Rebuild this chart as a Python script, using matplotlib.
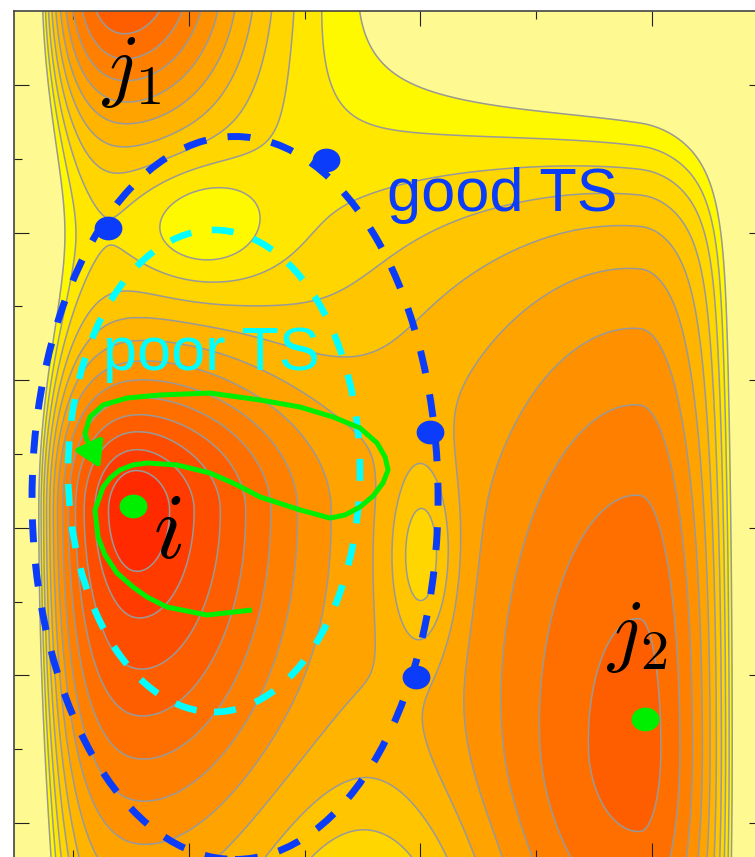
import numpy as np
import matplotlib.pyplot as plt
from matplotlib.patches import Ellipse
from matplotlib.path import Path

plt.rcParams["mathtext.fontset"] = "cm"

# ---------------------------------------------------------------
# model energy surface: split Gaussians on a flat background
# order: basin i, core of i, basin j1, basin j2, channel, hill, bump, hump
# ---------------------------------------------------------------
background = 11.7
term_x = [0.76, 0.76, 0.70, 2.95, 1.95, 1.05, 2.01, 1.85]
term_y = [3.12, 3.12, 6.75, 1.50, 4.40, 5.05, 2.80, 0.40]
term_amp = [-10.4, -1.2, -9.2, -8.1, -0.65, 2.2, 2.9, 2.0]
term_sx_left = [0.45, 0.13, 0.35, 0.70, 0.35, 0.22, 0.10, 0.35]
term_sx_right = [0.58, 0.13, 0.42, 0.30, 0.35, 0.22, 0.10, 0.35]
term_sy_down = [1.80, 0.35, 0.78, 1.80, 0.70, 0.30, 0.45, 0.60]
term_sy_up = [0.80, 0.35, 0.78, 2.80, 0.70, 0.30, 0.45, 0.60]

wall_height = 11.6
wall_left_x, wall_left_w = 0.32, 0.09
wall_right_x, wall_right_w = 3.41, 0.07

# high plateau in the upper right corner
shelf_height = 6.7
shelf_cx, shelf_cy = 3.30, 6.60
shelf_rx, shelf_ry = 1.25, 1.00
shelf_w = 0.32

levels = np.arange(0, 14)
band_colors = ["#ff2a00", "#ff3b00", "#ff4d00", "#ff5e00", "#ff6f00",
               "#ff8000", "#ff9100", "#ffa300", "#ffb400", "#ffc500",
               "#ffd600", "#ffe700", "#fff900"]

# ---------------------------------------------------------------
# annotations
# ---------------------------------------------------------------
ts_x = [0.650, 1.592, 2.041, 1.981]
ts_y = [5.031, 5.492, 3.649, 1.989]
min_x = [0.758, 2.970]
min_y = [3.148, 1.705]

traj_x = [1.272, 1.078, 0.905, 0.819, 0.758, 0.689, 0.637, 0.607, 0.594,
          0.629, 0.659, 0.702, 0.758, 0.819, 0.948, 1.091, 1.199, 1.307,
          1.480, 1.609, 1.674, 1.739, 1.795, 1.838, 1.860, 1.847, 1.812,
          1.739, 1.622, 1.480, 1.307, 1.091, 0.875, 0.732, 0.629, 0.572,
          0.551, 0.559]
traj_y = [2.443, 2.409, 2.463, 2.531, 2.599, 2.694, 2.816, 2.938, 3.121,
          3.276, 3.337, 3.392, 3.426, 3.439, 3.426, 3.371, 3.297, 3.209,
          3.121, 3.066, 3.087, 3.141, 3.215, 3.304, 3.392, 3.480, 3.575,
          3.676, 3.751, 3.818, 3.866, 3.913, 3.900, 3.879, 3.832, 3.751,
          3.642, 3.595]
traj_tip = (0.616, 3.405)

good_ring = (1.199, 3.202, 1.754, 4.898)   # centre x, centre y, width, height
poor_ring = (1.108, 3.385, 1.261, 3.266)

blue = "#0a3cfa"
cyan = "#00ffff"
green = "#00ee00"


def surface(x, y):
    v = np.full_like(x, background)
    for k in range(len(term_x)):
        sx = np.where(x < term_x[k], term_sx_left[k], term_sx_right[k])
        sy = np.where(y < term_y[k], term_sy_down[k], term_sy_up[k])
        v += term_amp[k] * np.exp(-0.5 * ((x - term_x[k]) / sx) ** 2
                                  - 0.5 * ((y - term_y[k]) / sy) ** 2)
    v += wall_height * np.exp(-(x - wall_left_x) / wall_left_w)
    v += wall_height * np.exp((x - wall_right_x) / wall_right_w)
    r = np.hypot((x - shelf_cx) / shelf_rx, (y - shelf_cy) / shelf_ry)
    v += shelf_height / (1 + np.exp((r - 1) / shelf_w))
    return v


xlim = (0.2441, 3.4838)
ylim = (0.7629, 6.5014)
gx, gy = np.meshgrid(np.linspace(*xlim, 700), np.linspace(*ylim, 800))
gv = surface(gx, gy)

fig = plt.figure(figsize=(7.55, 8.57), dpi=100)
ax = fig.add_axes([14 / 755, -1 / 857, 750 / 755, 847 / 857])
ax.set_facecolor("#fff991")

ax.contourf(gx, gy, gv, levels=levels, colors=band_colors, zorder=1)
ax.contour(gx, gy, gv, levels=levels, colors="#999999", linewidths=1.1, zorder=2)

for ring, col, lw in [(good_ring, blue, 5.0), (poor_ring, cyan, 4.8)]:
    ax.add_patch(Ellipse(ring[:2], ring[2], ring[3], fill=False, edgecolor=col,
                         lw=lw, linestyle=(0, (3.3, 3.1)), zorder=3))

ax.plot(traj_x, traj_y, color=green, lw=3.6, solid_joinstyle="round",
        solid_capstyle="butt", zorder=4)
ax.annotate("", xy=traj_tip, xytext=(traj_x[-1], traj_y[-1]),
            arrowprops=dict(arrowstyle="-|>,head_length=0.75,head_width=0.46",
                            mutation_scale=20, color=green, lw=3.6,
                            shrinkA=0, shrinkB=0), zorder=4)

theta = np.linspace(0, 2 * np.pi, 64)
dot = Path(np.column_stack([1.17 * np.cos(theta), np.sin(theta)]), closed=True)
ax.plot(ts_x, ts_y, ls="none", marker=dot, ms=20, mfc=blue, mec="none", zorder=5)
ax.plot(min_x, min_y, ls="none", marker=dot, ms=20, mfc=green, mec="none", zorder=5)

ax.text(1.855, 5.146, "good TS", color=blue, fontsize=44,
        family="Liberation Sans", va="baseline", zorder=6)
ax.text(0.6285, 4.069, "poor TS", color=cyan, fontsize=44,
        family="Liberation Sans", va="baseline", zorder=6)
ax.text(0.62, 5.959, r"$j_1$", fontsize=58, va="baseline", zorder=6)
ax.text(2.80, 2.131, r"$j_2$", fontsize=58, va="baseline", zorder=6)
ax.text(0.845, 2.795, r"$i$", fontsize=66, va="baseline", zorder=6)

ax.set_xlim(*xlim)
ax.set_ylim(*ylim)
ax.set_xticks([1, 2, 3])
ax.set_xticks([0.5, 1.5, 2.5], minor=True)
ax.set_yticks([1, 2, 3, 4, 5, 6])
ax.set_yticks([1.5, 2.5, 3.5, 4.5, 5.5], minor=True)
ax.tick_params(which="both", direction="in", top=True, right=True,
               labelbottom=False, labelleft=False, color="#222222", width=0.8)
ax.tick_params(which="major", length=11)
ax.tick_params(which="minor", length=5.5)
for side in ax.spines.values():
    side.set_linewidth(1.2)
    side.set_color("#444444")

fig.savefig("out.png", dpi=100)
